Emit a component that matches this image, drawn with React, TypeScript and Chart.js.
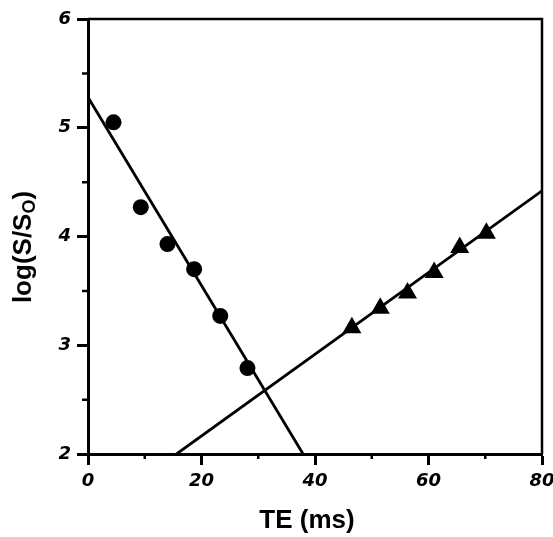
import React, { useEffect, useRef } from "react";
import { Chart, registerables } from "chart.js";

Chart.register(...registerables);

// Data
const circleTE = [4.5, 9.3, 14.0, 18.7, 23.3, 28.1];
const circleLog = [5.05, 4.27, 3.93, 3.7, 3.27, 2.79];
const triangleTE = [46.5, 51.5, 56.3, 61.0, 65.5, 70.2];
const triangleLog = [3.16, 3.34, 3.48, 3.67, 3.9, 4.03];
const fit1TE = [0, 37.9];
const fit1Log = [5.28, 2];
const fit2TE = [15.6, 80];
const fit2Log = [2, 4.42];

const xMajorTicks = [0, 20, 40, 60, 80];
const xMinorTicks = [10, 30, 50, 70];
const yMajorTicks = [2, 3, 4, 5, 6];
const yMinorTicks = [2.5, 3.5, 4.5, 5.5];

const xTitle = "TE (ms)";
const yTitleMain = "log(S/S";
const yTitleSub = "O";
const yTitleEnd = ")";

const FONT = '"Liberation Sans", Arial, sans-serif';
const TICKFONT = '"DejaVu Sans", "Liberation Sans", sans-serif';

const zip = (xs: number[], ys: number[]) => xs.map((x, i) => ({ x, y: ys[i] }));

const framePlugin = {
  id: "framePlugin",
  afterDraw(chart: any) {
    const { ctx, chartArea, scales } = chart;
    const xs = scales.x;
    const ys = scales.y;
    ctx.save();
    ctx.strokeStyle = "#000";
    ctx.lineWidth = 2.5;
    ctx.beginPath();
    ctx.moveTo(chartArea.left, chartArea.top);
    ctx.lineTo(chartArea.right, chartArea.top);
    ctx.lineTo(chartArea.right, chartArea.bottom);
    ctx.stroke();
    ctx.lineWidth = 2.5;
    ctx.beginPath();
    xMinorTicks.forEach((v) => {
      const px = xs.getPixelForValue(v);
      ctx.moveTo(px, chartArea.bottom);
      ctx.lineTo(px, chartArea.bottom + 5);
    });
    yMinorTicks.forEach((v) => {
      const py = ys.getPixelForValue(v);
      ctx.moveTo(chartArea.left, py);
      ctx.lineTo(chartArea.left - 6, py);
    });
    ctx.stroke();

    ctx.fillStyle = "#000";
    ctx.font = `bold 26px ${FONT}`;
    ctx.textAlign = "center";
    ctx.textBaseline = "middle";
    ctx.fillText(xTitle, (chartArea.left + chartArea.right) / 2 - 8, 521);

    ctx.translate(31, 247);
    ctx.rotate(-Math.PI / 2);
    ctx.textAlign = "left";
    ctx.textBaseline = "alphabetic";
    const mainFont = `bold 26px ${FONT}`;
    const subFont = `bold 18px ${FONT}`;
    ctx.font = mainFont;
    const w1 = ctx.measureText(yTitleMain).width;
    ctx.font = subFont;
    const w2 = ctx.measureText(yTitleSub).width;
    ctx.font = mainFont;
    const w3 = ctx.measureText(yTitleEnd).width;
    const total = w1 + w2 + w3;
    let x0 = -total / 2;
    ctx.font = mainFont;
    ctx.fillText(yTitleMain, x0, 0);
    x0 += w1;
    ctx.font = subFont;
    ctx.fillText(yTitleSub, x0, 4);
    x0 += w2;
    ctx.font = mainFont;
    ctx.fillText(yTitleEnd, x0, 0);
    ctx.restore();
  },
};

export default function App() {
  const ref = useRef<HTMLCanvasElement>(null);
  useEffect(() => {
    if (!ref.current) return;
    const chart = new Chart(ref.current, {
      type: "scatter",
      data: {
        datasets: [
          {
            label: "fit1",
            data: zip(fit1TE, fit1Log),
            showLine: true,
            borderColor: "#000",
            borderWidth: 2.8,
            pointRadius: 0,
          },
          {
            label: "fit2",
            data: zip(fit2TE, fit2Log),
            showLine: true,
            borderColor: "#000",
            borderWidth: 2.8,
            pointRadius: 0,
          },
          {
            label: "circles",
            data: zip(circleTE, circleLog),
            pointStyle: "circle",
            pointRadius: 8,
            backgroundColor: "#000",
            borderColor: "#000",
            borderWidth: 0,
          },
          {
            label: "triangles",
            data: zip(triangleTE, triangleLog),
            pointStyle: "triangle",
            pointRadius: 11,
            backgroundColor: "#000",
            borderColor: "#000",
            borderWidth: 0,
          },
        ],
      },
      options: {
        animation: false,
        responsive: false,
        events: [],
        layout: { padding: { top: 19, right: 11, left: 0, bottom: 0 } },
        plugins: { legend: { display: false }, tooltip: { enabled: false } },
        scales: {
          x: {
            type: "linear",
            min: 0,
            max: 80,
            afterBuildTicks: (scale: any) => {
              scale.ticks = xMajorTicks.map((v) => ({ value: v }));
            },
            afterFit: (scale: any) => {
              scale.height = 83;
              scale.paddingLeft = 0;
              scale.paddingRight = 0;
            },
            border: { display: true, color: "#000", width: 3 },
            grid: {
              drawOnChartArea: false,
              tickLength: 11,
              tickWidth: 3,
              tickColor: "#000",
            },
            ticks: {
              color: "#000",
              padding: 6,
              maxRotation: 0,
              font: { family: TICKFONT, size: 18, weight: "bold", style: "italic" },
              callback: (v: any) => String(v),
            },
          },
          y: {
            type: "linear",
            min: 2,
            max: 6,
            afterBuildTicks: (scale: any) => {
              scale.ticks = yMajorTicks.map((v) => ({ value: v }));
            },
            afterFit: (scale: any) => {
              scale.width = 88;
            },
            border: { display: true, color: "#000", width: 3 },
            grid: {
              drawOnChartArea: false,
              tickLength: 11,
              tickWidth: 3,
              tickColor: "#000",
            },
            ticks: {
              color: "#000",
              padding: 6,
              font: { family: TICKFONT, size: 18, weight: "bold", style: "italic" },
              callback: (v: any) => String(v),
            },
          },
        },
      },
      plugins: [framePlugin],
    });
    return () => chart.destroy();
  }, []);
  return (
    <div style={{ position: "absolute", left: 0, top: 0, width: 553, height: 537, background: "#fff" }}>
      <canvas ref={ref} width={553} height={537} style={{ display: "block" }} />
    </div>
  );
}
